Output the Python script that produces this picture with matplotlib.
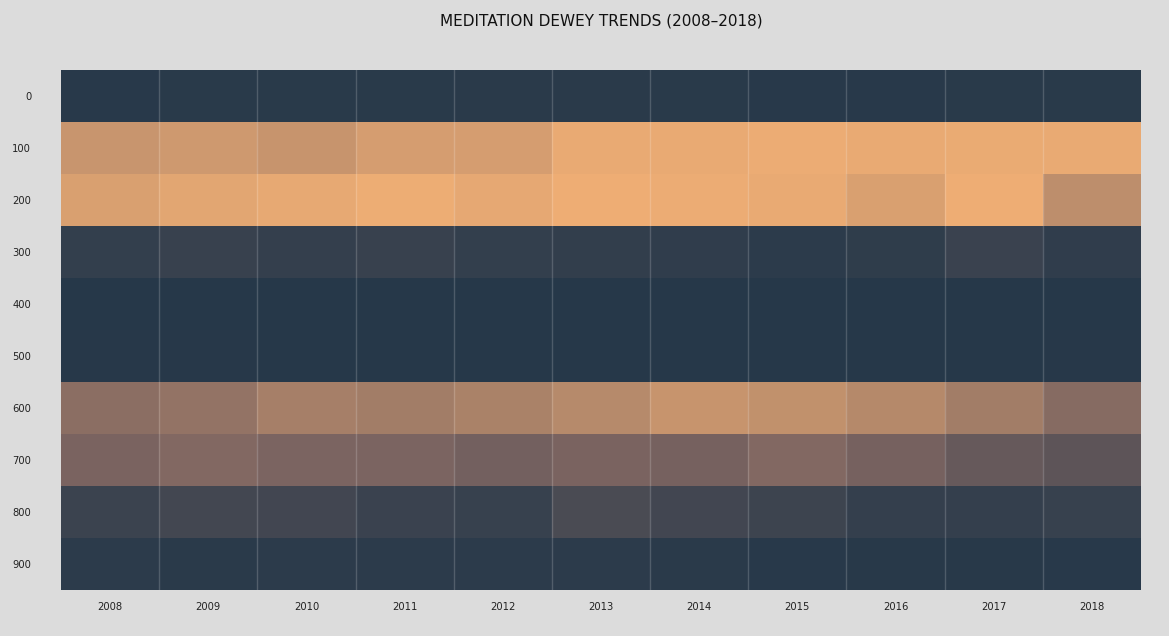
import numpy as np
import matplotlib
matplotlib.use("Agg")
from matplotlib import pyplot as plt
from matplotlib.colors import LinearSegmentedColormap

years = ["2008", "2009", "2010", "2011", "2012", "2013", "2014", "2015", "2016", "2017", "2018"]
dewey_classes = ["0", "100", "200", "300", "400", "500", "600", "700", "800", "900"]

# relative checkout share per dewey class (0 = lowest, 1 = highest)
share_000 = [0.015, 0.018, 0.018, 0.018, 0.02, 0.02, 0.018, 0.015, 0.015, 0.018, 0.018]
share_100 = [0.807, 0.837, 0.802, 0.868, 0.873, 0.974, 0.969, 0.990, 0.974, 0.980, 0.969]
share_200 = [0.893, 0.939, 0.964, 0.995, 0.954, 1.000, 0.990, 0.969, 0.893, 1.000, 0.751]
share_300 = [0.063, 0.088, 0.068, 0.093, 0.063, 0.059, 0.049, 0.034, 0.044, 0.098, 0.054]
share_400 = [0.002, 0.002, 0.0, 0.0, 0.0, 0.0, 0.0, 0.0, 0.0, 0.0, 0.0]
share_500 = [0.005, 0.004, 0.002, 0.002, 0.002, 0.002, 0.002, 0.002, 0.002, 0.002, 0.004]
share_600 = [0.497, 0.537, 0.634, 0.614, 0.654, 0.715, 0.797, 0.771, 0.710, 0.614, 0.471]
share_700 = [0.410, 0.451, 0.415, 0.415, 0.376, 0.410, 0.390, 0.451, 0.390, 0.312, 0.268]
share_800 = [0.102, 0.141, 0.137, 0.098, 0.083, 0.176, 0.137, 0.112, 0.068, 0.073, 0.083]
share_900 = [0.034, 0.020, 0.034, 0.029, 0.034, 0.034, 0.020, 0.015, 0.010, 0.010, 0.015]

grid = np.array([share_000, share_100, share_200, share_300, share_400,
                 share_500, share_600, share_700, share_800, share_900])

cmap = LinearSegmentedColormap.from_list(
    "navy_orange", [(0.0, "#263849"), (0.4, "#786260"), (1.0, "#EEAD74")])

fig = plt.figure(figsize=(11.69, 6.36), dpi=100, facecolor="#DCDCDC")
ax = fig.add_axes([61 / 1169, 1 - 590 / 636, 1080 / 1169, 520 / 636])
ax.set_facecolor("#DCDCDC")

ax.pcolormesh(grid, cmap=cmap, vmin=0, vmax=1)
ax.set_xlim(0, len(years))
ax.set_ylim(len(dewey_classes), 0)

# faint column separators
for i in range(1, len(years)):
    ax.axvline(i, color="white", alpha=0.18, lw=1)

ax.set_xticks(np.arange(len(years)) + 0.5)
ax.set_xticklabels(years, fontsize=7.2, color="#222222")
ax.set_yticks(np.arange(len(dewey_classes)) + 0.5)
ax.set_yticklabels(dewey_classes, fontsize=7.2, color="#222222")
ax.tick_params(axis="x", length=0, pad=8.5)
ax.tick_params(axis="y", length=0, pad=21.5)
for s in ax.spines.values():
    s.set_visible(False)

fig.text(601 / 1169, 1 - 21 / 636, "MEDITATION DEWEY TRENDS (2008–2018)",
         ha="center", va="center", fontsize=11, color="#111111")

fig.savefig("out.png", dpi=100, facecolor=fig.get_facecolor())
